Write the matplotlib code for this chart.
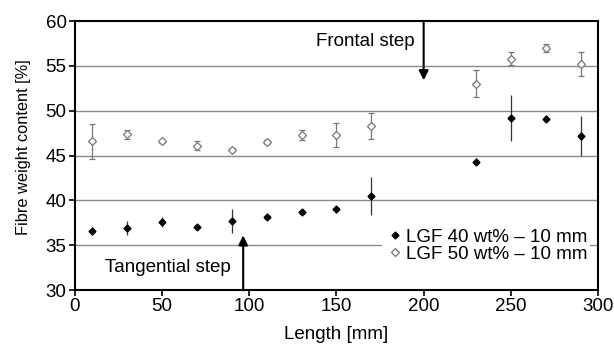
import numpy as np
import matplotlib.pyplot as plt
from matplotlib.lines import Line2D

plt.rcParams['font.family'] = ['Liberation Sans', 'DejaVu Sans']

length = [10, 30, 50, 70, 90, 110, 130, 150, 170, 230, 250, 270, 290]

lgf40 = [36.6, 36.9, 37.6, 37.0, 37.7, 38.1, 38.7, 39.0, 40.5, 44.3, 49.2, 49.1, 47.2]
lgf40_err = [0.4, 0.8, 0.6, 0.3, 1.3, 0.2, 0.3, 0.4, 2.15, 0.4, 2.6, 0.4, 2.25]

lgf50 = [46.6, 47.4, 46.6, 46.1, 45.65, 46.5, 47.3, 47.3, 48.3, 53.0, 55.8, 57.0, 55.2]
lgf50_err = [1.95, 0.5, 0.15, 0.5, 0.15, 0.25, 0.6, 1.3, 1.5, 1.5, 0.7, 0.4, 1.3]

fig = plt.figure(figsize=(6.14, 3.45), dpi=100)
ax = fig.add_axes([0.122, 0.159, 0.852, 0.78])

for y in [35, 40, 45, 50, 55]:
    ax.axhline(y, color='#8a8a8a', lw=1.0, zorder=0)

ax.errorbar(length, lgf40, yerr=lgf40_err, fmt='D', color='black', ms=3.5,
            ecolor='#333333', elinewidth=0.9, capsize=0, zorder=3)
ax.errorbar(length, lgf50, yerr=lgf50_err, fmt='D', mfc='white', mec='#777777',
            ms=3.8, mew=0.9, ecolor='#777777', elinewidth=0.9, capsize=2,
            zorder=3)

# step arrows
ax.annotate('', xy=(200, 53.4), xytext=(200, 60),
            arrowprops=dict(arrowstyle='-|>', color='black', lw=1.5,
                            mutation_scale=14, shrinkA=0, shrinkB=0))
ax.text(195, 57.7, 'Frontal step', ha='right', va='center', fontsize=13.5)
ax.annotate('', xy=(96.5, 36.1), xytext=(96.5, 30),
            arrowprops=dict(arrowstyle='-|>', color='black', lw=1.5,
                            mutation_scale=14, shrinkA=0, shrinkB=0))
ax.text(17, 32.5, 'Tangential step', ha='left', va='center', fontsize=13.5)

ax.set_xlim(0, 300)
ax.set_ylim(30, 60)
ax.set_xticks(np.arange(0, 301, 50))
ax.set_yticks(np.arange(30, 61, 5))
ax.tick_params(labelsize=13.5, direction='out', length=4, width=1.2, pad=2)
for s in ax.spines.values():
    s.set_linewidth(1.5)
ax.set_xlabel('Length [mm]', fontsize=13.5, va='center')
ax.xaxis.set_label_coords(0.5, -0.164)
ax.set_ylabel('Fibre weight content [%]', fontsize=11.8, va='center')
ax.yaxis.set_label_coords(-0.099, 0.53)

handles = [
    Line2D([], [], ls='none', marker='D', color='black', ms=3.5),
    Line2D([], [], ls='none', marker='D', mfc='white', mec='#777777', ms=3.8, mew=0.9),
]
labels = ['LGF 40 wt% – 10 mm', 'LGF 50 wt% – 10 mm']
ax.legend(handles, labels, loc='center right', bbox_to_anchor=(0.985, 0.165),
          borderaxespad=0, fontsize=13.5, frameon=True, fancybox=False,
          edgecolor='none', framealpha=1, handletextpad=0.1, handlelength=1.0,
          borderpad=0.15, labelspacing=0.0)

fig.savefig('out.png', dpi=100)
